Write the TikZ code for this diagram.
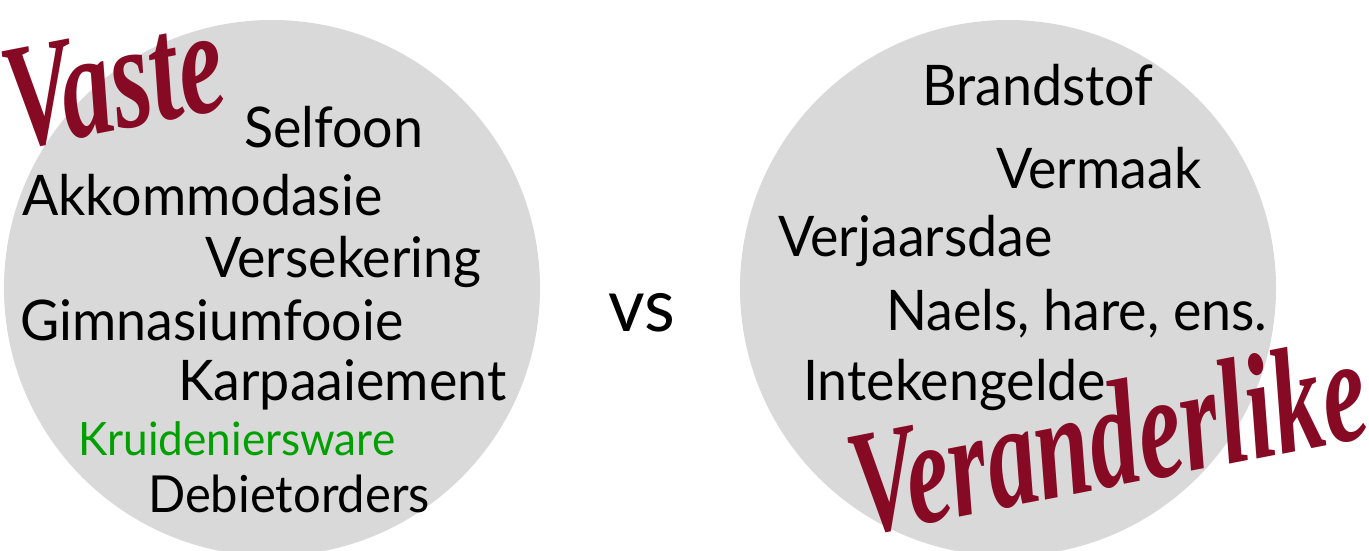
\documentclass[tikz,border=0pt]{standalone}
\usepackage{fontspec}
\setmainfont{Lato}
\newfontfamily\itemfont[FakeStretch=0.96]{Lato}
\newfontfamily\brushfont{Liberation Serif}
\definecolor{circgray}{RGB}{217,217,217}
\definecolor{wine}{RGB}{135,10,36}
\definecolor{grocgreen}{RGB}{0,160,0}
\tikzset{
  item/.style={anchor=base west,inner sep=0pt,font=\itemfont\fontsize{56}{60}\selectfont},
  brush/.style={anchor=base west,inner sep=0pt,text=wine,font=\brushfont\bfseries\itshape\fontsize{150}{160}\selectfont}
}
\begin{document}
\begin{tikzpicture}[x=1pt,y=-1pt]
\useasboundingbox (0,0) rectangle (1369,550);
\fill [color=circgray] (272,288) circle (268);
\fill [color=circgray] (1008,288) circle (268);
% vaste uitgawes
\node [item] (selfoon) at (244,147) {Selfoon};
\node [item] (akkom) at (22,215) {Akkommodasie};
\node [item] (versek) at (205,277) {Versekering};
\node [item] (gim) at (20,340) {Gimnasiumfooie};
\node [item] (karpaai) at (178,400) {Karpaaiement};
\node [item,text=grocgreen,font=\itemfont\fontsize{46}{50}\selectfont] (kruid) at (78,455) {Kruideniersware};
\node [item,font=\itemfont\fontsize{51}{55}\selectfont] (debiet) at (148,512) {Debietorders};
\node [item,font=\itemfont\fontsize{74}{80}\selectfont] (vs) at (608,331) {vs};
% veranderlike uitgawes
\node [item] (brand) at (922,105) {Brandstof};
\node [item] (vermaak) at (996,188) {Vermaak};
\node [item] (verjaar) at (778,256) {Verjaarsdae};
\node [item] (naels) at (886,330) {Naels, hare, ens.};
\node [item] (inteken) at (803,400) {Intekengelde};
\node [brush,rotate=11,xscale=0.68] (vaste) at (14,150) {Vaste};
\node [brush,rotate=11,xscale=0.66] (veranderlike) at (860,536) {Veranderlike};
\end{tikzpicture}
\end{document}
